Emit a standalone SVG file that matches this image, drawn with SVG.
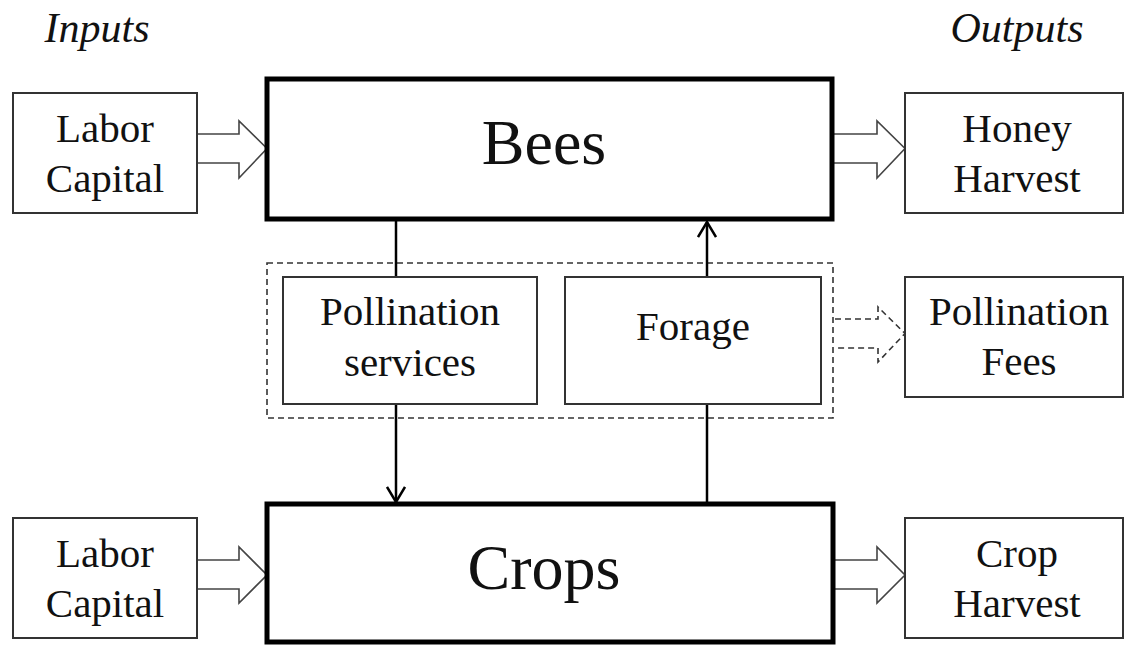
<svg xmlns="http://www.w3.org/2000/svg" width="1127" height="645" viewBox="0 0 1127 645">
<defs>
<style>
text{font-family:"Liberation Serif","Times New Roman",serif;fill:#111;text-anchor:middle}
.lbl{font-size:41px}
.big{font-size:64px}
.hdr{font-size:42px;font-style:italic}
.box{fill:#fff;stroke:#333;stroke-width:2}
.main{fill:#fff;stroke:#000;stroke-width:5}
.blk{fill:#fff;stroke:#444;stroke-width:1.6;stroke-linejoin:miter}
.dash{fill:none;stroke:#333;stroke-width:1.6;stroke-dasharray:6 4}
.ln{fill:none;stroke:#000;stroke-width:2.5}
</style>
<marker id="open" viewBox="0 0 20 20" refX="18" refY="10" markerWidth="20" markerHeight="20" markerUnits="userSpaceOnUse" orient="auto">
<path d="M3,1 L18,10 L3,19" fill="none" stroke="#000" stroke-width="2.5"/>
</marker>
</defs>
<rect width="1127" height="645" fill="#fff"/>
<text class="hdr" x="97" y="42">Inputs</text>
<text class="hdr" x="1017" y="42">Outputs</text>
<g id="container">
<rect class="dash" x="267" y="263" width="566" height="155"/>
</g>
<g id="connectors">
<path class="blk" d="M197,134 H239 V121 L267,148.5 L239,178 V163 H197"/>
<path class="blk" d="M834,134 H877 V121 L905,148.5 L877,178 V163 H834"/>
<path class="blk" d="M197,560 H239 V547 L267,575 L239,603 V589 H197"/>
<path class="blk" d="M834,560 H877 V547 L905,575 L877,603 V589 H834"/>
<path class="dash" d="M835,319 H878 V307 L905,333.5 L878,362 V348 H835"/>
<line class="ln" x1="396" y1="221" x2="396" y2="277"/>
<line class="ln" x1="396" y1="404" x2="396" y2="502" marker-end="url(#open)"/>
<line class="ln" x1="707" y1="502" x2="707" y2="404"/>
<line class="ln" x1="707" y1="277" x2="707" y2="222" marker-end="url(#open)"/>
</g>
<g id="labor-top">
<rect class="box" x="13" y="93" width="184" height="120"/>
<text class="lbl" x="105" y="142">Labor</text>
<text class="lbl" x="105" y="192">Capital</text>
</g>
<g id="bees">
<rect class="main" x="267" y="79" width="565" height="140"/>
<text class="big" x="544" y="164">Bees</text>
</g>
<g id="honey">
<rect class="box" x="905" y="93" width="218" height="120"/>
<text class="lbl" x="1017" y="142">Honey</text>
<text class="lbl" x="1017" y="192">Harvest</text>
</g>
<g id="pollination-services">
<rect class="box" x="283" y="277" width="254" height="127"/>
<text class="lbl" x="410" y="325">Pollination</text>
<text class="lbl" x="410" y="376">services</text>
</g>
<g id="forage">
<rect class="box" x="565" y="277" width="256" height="127"/>
<text class="lbl" x="693" y="340">Forage</text>
</g>
<g id="pollination-fees">
<rect class="box" x="905" y="277" width="218" height="120"/>
<text class="lbl" x="1019" y="325">Pollination</text>
<text class="lbl" x="1019" y="375">Fees</text>
</g>
<g id="labor-bottom">
<rect class="box" x="13" y="518" width="184" height="120"/>
<text class="lbl" x="105" y="567">Labor</text>
<text class="lbl" x="105" y="617">Capital</text>
</g>
<g id="crops">
<rect class="main" x="267" y="504" width="566" height="138"/>
<text class="big" x="544" y="589">Crops</text>
</g>
<g id="crop-harvest">
<rect class="box" x="905" y="518" width="218" height="120"/>
<text class="lbl" x="1017" y="567">Crop</text>
<text class="lbl" x="1017" y="617">Harvest</text>
</g>
</svg>
